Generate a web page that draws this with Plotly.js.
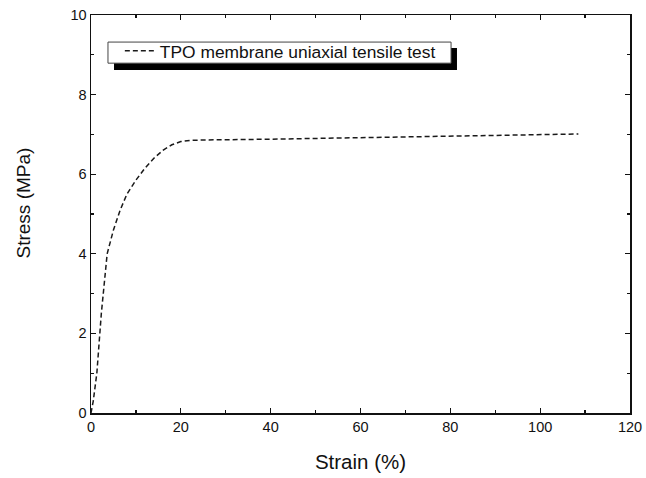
<!DOCTYPE html>
<html>
<head>
<meta charset="utf-8">
<script src="https://cdn.plot.ly/plotly-3.0.1.min.js"></script>
<style>html,body{margin:0;padding:0;background:#fff;}#chart{width:646px;height:478px;}</style>
</head>
<body>
<div id="chart"></div>
<script>
const strain = [0, 0.5, 1.3, 2.3, 3.6, 5, 6.5, 8, 10, 12, 14, 16, 18, 20, 22, 25, 40, 60, 80, 100, 108.5];
const stress = [0, 0.3, 1.0, 2.5, 4.0, 4.6, 5.1, 5.5, 5.85, 6.15, 6.4, 6.6, 6.74, 6.82, 6.85, 6.86, 6.88, 6.92, 6.96, 6.99, 7.01];
const seriesName = "TPO membrane uniaxial tensile test";
const xTitle = "Strain (%)";
const yTitle = "Stress (MPa)";

const FONT = "Liberation Sans, Arial, sans-serif";

const trace = {
  x: strain, y: stress, type: "scatter", mode: "lines", name: seriesName,
  line: {color: "#1a1a1a", width: 1.5, dash: "5px,3px"},
  showlegend: true
};

const axisCommon = {
  showline: true, linecolor: "#111", linewidth: 1.5, mirror: "ticks",
  ticks: "inside", ticklen: 5, tickwidth: 1.3, tickcolor: "#111",
  showgrid: false, zeroline: false,
  tickfont: {family: FONT, size: 14.5, color: "#111"},
  minor: {ticks: "inside", ticklen: 3, tickwidth: 1.2, tickcolor: "#111", showgrid: false}
};

const layout = {
  width: 646, height: 478,
  margin: {l: 91, r: 16, t: 15, b: 65},
  paper_bgcolor: "#fff", plot_bgcolor: "#fff",
  showlegend: true,
  xaxis: Object.assign({}, axisCommon, {
    range: [0, 120], dtick: 20, tick0: 0,
    minor: Object.assign({}, axisCommon.minor, {dtick: 10}),
    title: {text: xTitle, font: {family: FONT, size: 20.5, color: "#111"}, standoff: 20}
  }),
  yaxis: Object.assign({}, axisCommon, {
    range: [0, 10], dtick: 2, tick0: 0,
    minor: Object.assign({}, axisCommon.minor, {dtick: 1})
  }),
  legend: {
    x: 0.0535, y: 0.955, xanchor: "left", yanchor: "top",
    bgcolor: "rgba(0,0,0,0)", borderwidth: 0,
    font: {family: FONT, size: 17.4, color: "#111"}
  },
  shapes: [
    {type: "rect", xref: "paper", yref: "paper", x0: 0.0427, x1: 0.679, y0: 0.862, y1: 0.917,
     fillcolor: "#000", line: {width: 0}, layer: "above"},
    {type: "rect", xref: "paper", yref: "paper", x0: 0.0315, x1: 0.668, y0: 0.879, y1: 0.932,
     fillcolor: "#fff", line: {width: 1, color: "#444"}, layer: "above"}
  ],
  annotations: [
    {text: yTitle, xref: "paper", yref: "paper", x: -0.125, y: 0.528, xanchor: "center", yanchor: "middle",
     textangle: -90, showarrow: false, font: {family: FONT, size: 19, color: "#111"}}
  ]
};

Plotly.newPlot("chart", [trace], layout, {displayModeBar: false, staticPlot: true});
</script>
</body>
</html>
